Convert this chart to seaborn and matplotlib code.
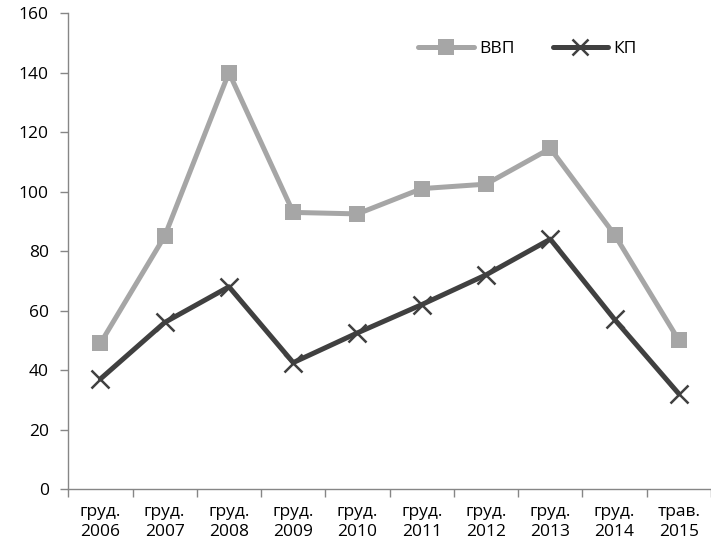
import pandas as pd
import numpy as np
import matplotlib.pyplot as plt
import seaborn as sns
from matplotlib.ticker import FixedLocator, NullFormatter

# Дані з діаграми
periods = ['груд.\n2006', 'груд.\n2007', 'груд.\n2008', 'груд.\n2009', 'груд.\n2010',
           'груд.\n2011', 'груд.\n2012', 'груд.\n2013', 'груд.\n2014', 'трав.\n2015']
vvp = [49, 85, 140, 93, 92.5, 101, 102.5, 114.5, 85.5, 50]
kp = [37, 56, 68, 42.5, 52.5, 62, 72, 84, 57, 32]

sns.set_style('white')
plt.rcParams['font.family'] = ['Open Sans', 'DejaVu Sans']
plt.rcParams['text.color'] = 'black'
plt.rcParams['xtick.color'] = 'black'
plt.rcParams['ytick.color'] = 'black'

df = pd.DataFrame({
    'x': list(range(len(periods))) * 2,
    'value': vvp + kp,
    'series': ['ВВП'] * len(vvp) + ['КП'] * len(kp),
})

fig = plt.figure(figsize=(7.11, 5.47), dpi=100)
ax = fig.add_axes([0.096, 0.106, 0.904, 0.870])

sns.lineplot(data=df, x='x', y='value', hue='series', style='series',
             palette={'ВВП': '#a6a6a6', 'КП': '#404040'},
             markers={'ВВП': 's', 'КП': 'X'}, dashes=False,
             linewidth=3.6, markersize=11, markeredgewidth=0, ax=ax)

# маркери КП як тонкі хрестики
ax.lines[1].set_marker('x')
ax.lines[1].set_markeredgewidth(1.8)
ax.lines[1].set_markeredgecolor('#404040')
ax.lines[1].set_markersize(13)

ax.set_xlim(-0.5, len(periods) - 0.5)
ax.set_ylim(0, 160)
ax.set_yticks(range(0, 161, 20))
ax.xaxis.set_major_locator(FixedLocator(np.arange(-0.5, len(periods), 1.0)))
ax.xaxis.set_major_formatter(NullFormatter())
ax.xaxis.set_minor_locator(FixedLocator(range(len(periods))))
ax.set_xticklabels(periods, minor=True, linespacing=1.35)
ax.tick_params(axis='x', which='major', length=6, width=1, color='#868686', direction='out', bottom=True)
ax.tick_params(axis='x', which='minor', length=0, labelsize=12.5, pad=11)
ax.tick_params(axis='y', length=6, width=1, color='#868686', direction='out', labelsize=12.5, left=True, pad=8)
ax.set_xlabel('')
ax.set_ylabel('')

for side in ['top', 'right']:
    ax.spines[side].set_visible(False)
for side in ['left', 'bottom']:
    ax.spines[side].set_color('#868686')
    ax.spines[side].set_linewidth(1)

leg = ax.legend(loc='upper left', bbox_to_anchor=(0.52, 0.975), ncol=2, frameon=False,
                fontsize=12.5, handlelength=3.2, columnspacing=2.2, handletextpad=0.3)
leg_lines = leg.get_lines()
leg_lines[1].set_marker('x')
leg_lines[1].set_markeredgewidth(1.8)
leg_lines[1].set_markeredgecolor('#404040')

fig.savefig('out.png', dpi=100)
